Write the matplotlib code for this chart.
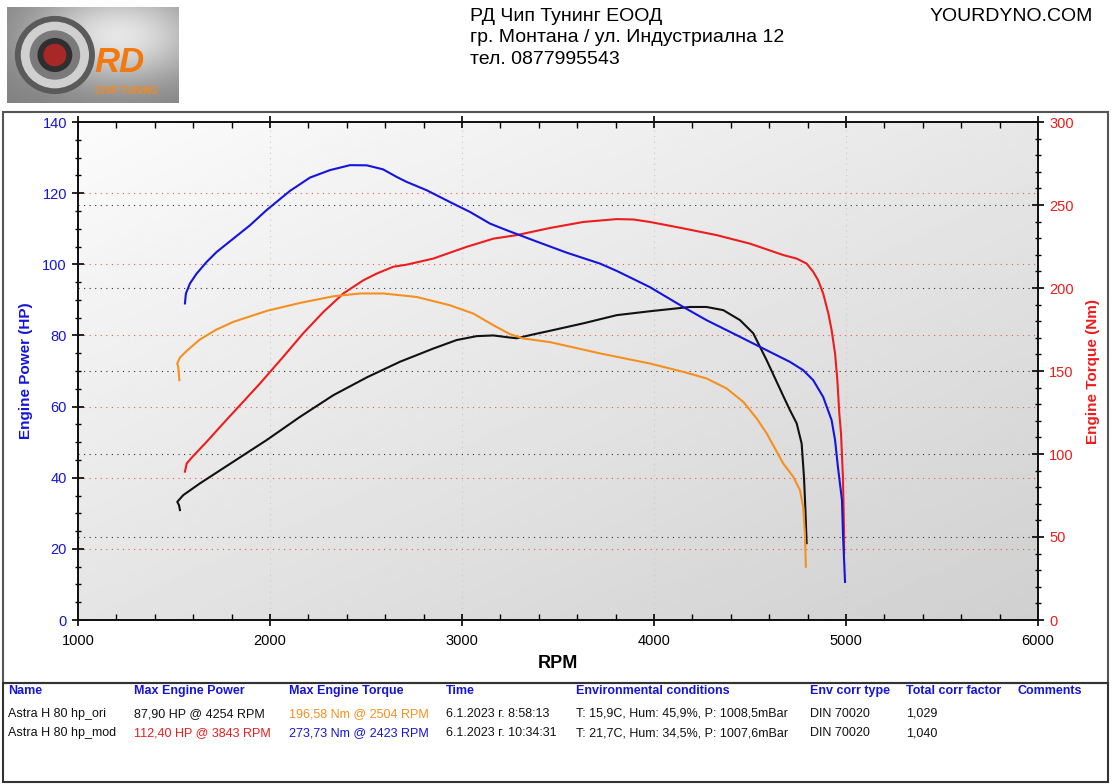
import numpy as np
import matplotlib
matplotlib.use('Agg')
import matplotlib.pyplot as plt
from matplotlib.patches import Rectangle, Ellipse
from matplotlib.ticker import MultipleLocator

plt.rcParams['font.family'] = ['Liberation Sans', 'DejaVu Sans']

# mod torque (blue, Nm)
rpm_tq_mod = [1557, 1562, 1583, 1618, 1670, 1722, 1896, 1983, 2104, 2156, 2208, 2312, 2417,
              2504, 2588, 2660, 2712, 2816, 2937, 3042, 3146, 3233, 3370, 3545, 3719,
              3806, 3979, 4152, 4274, 4413, 4587, 4708, 4777, 4829, 4881, 4925, 4943,
              4958, 4979, 4984, 4995]
tq_mod = [190.7, 196.7, 202.7, 208.7, 215.7, 221.7, 237.8, 247.0, 258.5, 262.5, 266.5, 271.0, 274.0,
          273.9, 271.5, 266.9, 263.9, 258.9, 251.8, 245.8, 238.8, 234.8, 228.8, 221.3, 214.7,
          210.3, 200.5, 188.6, 180.6, 172.6, 162.5, 155.5, 150.5, 144.5, 134.4, 120.4, 108.4,
          92.1, 72.2, 52.4, 22.9]

# mod power (red, HP)
rpm_hp_mod = [1557, 1566, 1600, 1670, 1757, 1844, 1948, 2069, 2173, 2278, 2382, 2486,
              2556, 2642, 2712, 2850, 3024, 3163, 3285, 3458, 3632, 3806, 3892, 3979,
              4152, 4326, 4500, 4673, 4743, 4795, 4829, 4855, 4881, 4908, 4925, 4943,
              4955, 4965, 4974, 4984, 4990, 4990]
hp_mod = [41.7, 44.0, 46.1, 50.1, 55.3, 60.4, 66.5, 74.0, 80.6, 86.6, 91.8, 95.5,
          97.4, 99.3, 99.9, 101.6, 104.9, 107.2, 108.2, 110.2, 111.9, 112.7, 112.6, 111.9,
          110.1, 108.2, 105.8, 102.6, 101.6, 100.2, 97.9, 95.5, 91.8, 86.2, 81.5, 74.9,
          67.4, 58.1, 52.5, 40.2, 24.4, 18.8]

# ori torque (orange, Nm)
rpm_tq_ori = [1528, 1522, 1517, 1531, 1566, 1635, 1722, 1809, 1983, 2156, 2330, 2469,
              2590, 2764, 2937, 3059, 3163, 3250, 3319, 3458, 3719, 3979, 4152, 4274,
              4378, 4465, 4535, 4587, 4673, 4725, 4760, 4777, 4786, 4791]
tq_ori = [144.5, 152.5, 154.5, 158.1, 162.1, 169.0, 175.0, 179.6, 186.2, 191.0, 195.0, 196.7,
          196.7, 194.6, 189.6, 184.6, 177.6, 172.2, 169.6, 167.4, 160.6, 154.5, 149.5, 145.5,
          139.5, 131.4, 121.4, 112.4, 94.3, 86.3, 78.3, 68.2, 52.2, 32.1]

# ori power (black, HP)
rpm_hp_ori = [1531, 1526, 1517, 1548, 1635, 1809, 1983, 2156, 2330, 2504, 2677, 2850,
              2972, 3076, 3163, 3250, 3285, 3372, 3458, 3632, 3806, 3979, 4187, 4274,
              4361, 4448, 4517, 4587, 4673, 4708, 4743, 4769, 4781, 4788, 4795]
hp_ori = [30.9, 32.3, 33.2, 35.1, 38.4, 44.5, 50.6, 57.1, 63.2, 68.2, 72.6, 76.3,
          78.7, 79.8, 80.0, 79.4, 79.2, 80.3, 81.3, 83.4, 85.7, 86.8, 88.0, 88.0,
          87.1, 84.3, 80.6, 73.0, 63.0, 59.0, 55.3, 49.6, 40.3, 31.8, 21.6]

header_lines = ['РД Чип Тунинг ЕООД', 'гр. Монтана / ул. Индустриална 12', 'тел. 0877995543']
site = 'YOURDYNO.COM'

col_names = ['Name', 'Max Engine Power', 'Max Engine Torque', 'Time',
             'Environmental conditions', 'Env corr type', 'Total corr factor', 'Comments']
row_ori = ['Astra H 80 hp_ori', '87,90 HP @ 4254 RPM', '196,58 Nm @ 2504 RPM',
           '6.1.2023 г. 8:58:13', 'T: 15,9C, Hum: 45,9%, P: 1008,5mBar', 'DIN 70020', '1,029', '']
row_mod = ['Astra H 80 hp_mod', '112,40 HP @ 3843 RPM', '273,73 Nm @ 2423 RPM',
           '6.1.2023 г. 10:34:31', 'T: 21,7C, Hum: 34,5%, P: 1007,6mBar', 'DIN 70020', '1,040', '']

BLUE = '#1414dc'
RED = '#ee1c1c'
ORANGE = '#f5901e'
BLACK = '#111111'

W, H = 1120, 784
fig = plt.figure(figsize=(W / 100, H / 100), dpi=100)
fig.patch.set_facecolor('white')

ax = fig.add_axes([78 / W, 1 - 620 / H, 960 / W, 498 / H])
ax.set_xlim(1000, 6000)
ax.set_ylim(0, 140)

# gradient background
gx, gy = np.meshgrid(np.linspace(0, 1, 200), np.linspace(0, 1, 200))
grad = 0.985 - 0.08 * gx - 0.09 * gy
ax.imshow(grad, extent=[0, 1, 0, 1], transform=ax.transAxes, cmap='gray',
          vmin=0, vmax=1, aspect='auto', origin='upper', zorder=0)

ax2 = ax.twinx()
ax2.set_ylim(0, 300)

# grids
for v in range(2000, 6000, 1000):
    ax.axvline(v, color='#c8c8c8', lw=0.8, ls=(0, (1, 4)), zorder=1)
for v in range(20, 140, 20):
    ax.axhline(v, color='#e05a5a', lw=0.8, ls=(0, (1, 4)), zorder=1)
for v in range(50, 300, 50):
    ax.hlines(v, 0, 0.993, transform=ax2.get_yaxis_transform(), color='#333333',
              lw=0.8, ls=(0, (1, 4)), zorder=1)

ax.plot(rpm_hp_ori, hp_ori, color=BLACK, lw=1.5, zorder=3)
ax.plot(rpm_hp_mod, hp_mod, color=RED, lw=1.5, zorder=3)
ax2.plot(rpm_tq_ori, tq_ori, color=ORANGE, lw=1.5, zorder=3)
ax2.plot(rpm_tq_mod, tq_mod, color=BLUE, lw=1.5, zorder=3)

ax.xaxis.set_major_locator(MultipleLocator(1000))
ax.xaxis.set_minor_locator(MultipleLocator(200))
ax.yaxis.set_major_locator(MultipleLocator(20))
ax.yaxis.set_minor_locator(MultipleLocator(5))
ax2.yaxis.set_major_locator(MultipleLocator(50))
ax2.yaxis.set_minor_locator(MultipleLocator(10))

ax.tick_params(axis='x', which='major', direction='inout', length=8, width=1.2,
               labelsize=10.5, pad=6, top=True)
ax.tick_params(axis='x', which='minor', direction='in', length=4, width=1, top=True)
ax.tick_params(axis='y', which='major', direction='inout', length=8, width=1.2,
               labelsize=10.5, labelcolor=BLUE, pad=4)
ax.tick_params(axis='y', which='minor', direction='inout', length=5, width=1)
ax2.tick_params(axis='y', which='major', direction='inout', length=8, width=1.2,
                labelsize=10.5, labelcolor=RED, pad=4)
ax2.tick_params(axis='y', which='minor', direction='inout', length=5, width=1)

for a in (ax, ax2):
    for s in a.spines.values():
        s.set_linewidth(1.3)
        s.set_color('#111111')

ax.set_xlabel('RPM', fontsize=13, fontweight='bold', labelpad=5)
ax.set_ylabel('Engine Power (HP)', fontsize=11, fontweight='bold', color=BLUE, labelpad=7)
ax2.set_ylabel('Engine Torque (Nm)', fontsize=11, fontweight='bold', color=RED, labelpad=9)

# frames
fig.add_artist(Rectangle((3 / W, 1 - 683 / H), 1105 / W, 571 / H, transform=fig.transFigure,
                         fill=False, edgecolor='#555555', lw=1.5))
fig.add_artist(Rectangle((3 / W, 1 - 782 / H), 1105 / W, 99 / H, transform=fig.transFigure,
                         fill=False, edgecolor='#333333', lw=1.5))

# header
for i, line in enumerate(header_lines):
    fig.text(470 / W, 1 - (8 + i * 21.5) / H, line, fontsize=14, va='top')
fig.text(1093 / W, 1 - 8 / H, site, fontsize=14, va='top', ha='right')

# logo
lax = fig.add_axes([7 / W, 1 - 103 / H, 171 / W, 96 / H])
lx, ly = np.meshgrid(np.linspace(0, 1, 100), np.linspace(0, 1, 100))
lg = 0.5 + 0.4 * np.exp(-((lx - 0.65) ** 2 + (ly - 0.3) ** 2) * 4)
lax.imshow(lg, extent=[0, 1, 0, 1], cmap='gray', vmin=0, vmax=1, aspect='auto')
for r, c in [(0.40, '#5a5a5a'), (0.34, '#d0d0d0'), (0.25, '#7a7a7a'), (0.17, '#2f2f2f'), (0.11, '#a82828')]:
    lax.add_patch(Ellipse((0.28, 0.5), r * 1.15, r * 2.0, color=c, transform=lax.transAxes))
lax.text(0.66, 0.42, 'RD', fontsize=25, fontweight='bold', style='italic', color='#f07a10',
         ha='center', va='center', transform=lax.transAxes)
lax.text(0.7, 0.12, 'CHIP TUNING', fontsize=7, fontweight='bold', color='#f08a20',
         ha='center', va='center', transform=lax.transAxes)
lax.set_xlim(0, 1)
lax.set_ylim(0, 1)
lax.axis('off')

# table
col_x = [8, 134, 289, 446, 576, 810, 906, 1018]
for x, name in zip(col_x, col_names):
    fig.text(x / W, 1 - 691 / H, name, fontsize=9, fontweight='bold', color=BLUE, va='center')
ori_colors = [BLACK, BLACK, ORANGE, BLACK, BLACK, BLACK, BLACK, BLACK]
mod_colors = [BLACK, RED, BLUE, BLACK, BLACK, BLACK, BLACK, BLACK]
for x, t, c in zip(col_x, row_ori, ori_colors):
    fig.text(x / W, 1 - 714 / H, t, fontsize=9, color=c, va='center')
for x, t, c in zip(col_x, row_mod, mod_colors):
    fig.text(x / W, 1 - 733 / H, t, fontsize=9, color=c, va='center')

fig.savefig('out.png', dpi=100)
